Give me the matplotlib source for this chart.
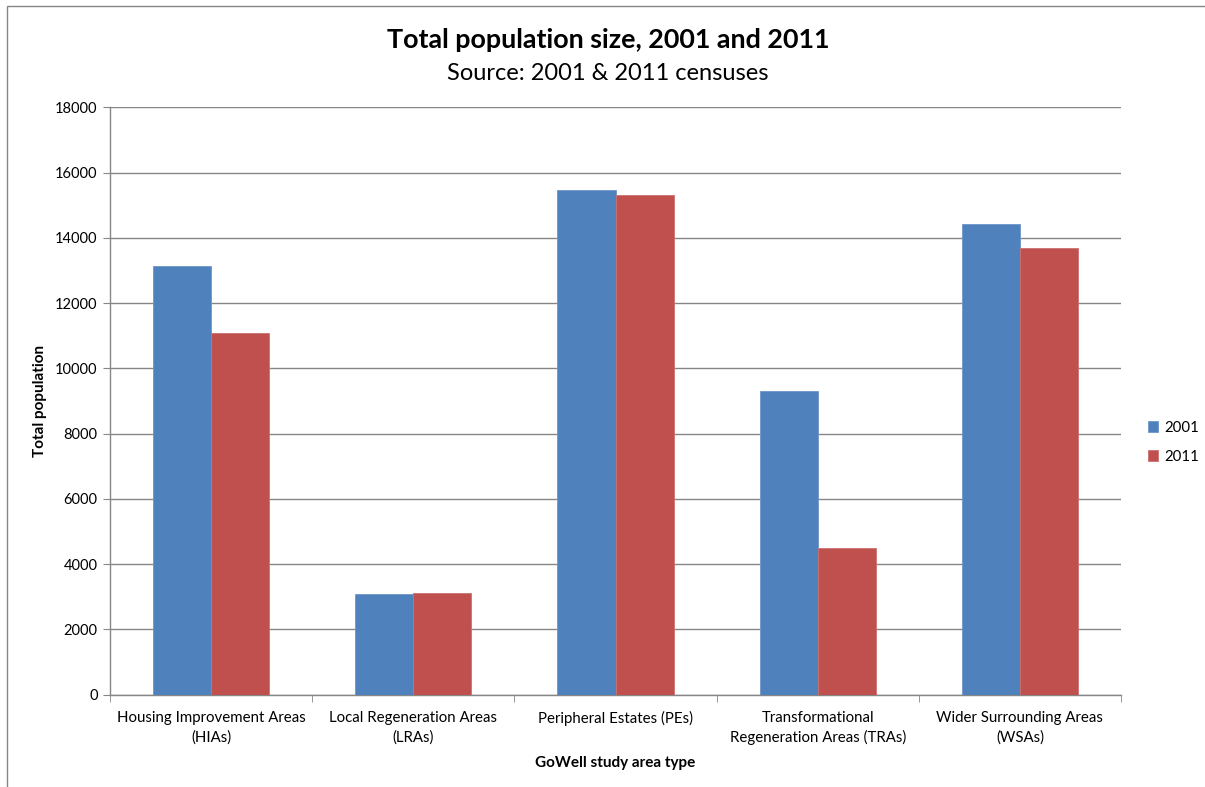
import matplotlib.pyplot as plt
import numpy as np
from matplotlib.patches import Rectangle

# Population counts per GoWell study area type
areas = ["Housing Improvement Areas\n(HIAs)",
         "Local Regeneration Areas\n(LRAs)",
         "Peripheral Estates (PEs)",
         "Transformational\nRegeneration Areas (TRAs)",
         "Wider Surrounding Areas\n(WSAs)"]
pop_2001 = [13150, 3085, 15455, 9295, 14425]
pop_2011 = [11085, 3105, 15305, 4485, 13700]
y_ticks = [0, 2000, 4000, 6000, 8000, 10000, 12000, 14000, 16000, 18000]

plt.rcParams['font.family'] = ['Lato', 'DejaVu Sans']

fig = plt.figure(figsize=(12.05, 7.87), dpi=100)
ax = fig.add_axes([110 / 1205, 1 - 694.7 / 787, 1011 / 1205, 587.4 / 787])

gray = "#868686"
x = np.arange(len(areas))
w = 0.2875
ax.bar(x - w / 2, pop_2001, w, color="#4F81BD", edgecolor="#6E96C8", linewidth=0.6, label="2001", zorder=3)
ax.bar(x + w / 2, pop_2011, w, color="#C0504D", edgecolor="#CC7270", linewidth=0.6, label="2011", zorder=3)

ax.set_xlim(-0.5, len(areas) - 0.5)
ax.set_ylim(0, 18000)
ax.set_yticks(y_ticks)
ax.tick_params(axis="y", labelsize=10.5, length=5, color=gray, pad=4)
ax.yaxis.grid(True, color=gray, linewidth=1, zorder=0)

# category labels centred, tick marks on the boundaries
ax.set_xticks(x)
ax.set_xticklabels(areas, fontsize=10.8, linespacing=1.4)
ax.tick_params(axis="x", length=0, pad=12)
ax.set_xticks(np.arange(-0.5, len(areas)), minor=True)
ax.tick_params(axis="x", which="minor", length=5, color=gray)

for s in ["top", "right"]:
    ax.spines[s].set_visible(False)
for s in ["left", "bottom"]:
    ax.spines[s].set_color(gray)
    ax.spines[s].set_linewidth(1)

ax.set_ylabel("Total population", fontsize=11, fontweight="bold", labelpad=6)
ax.set_xlabel("GoWell study area type", fontsize=11, fontweight="bold", labelpad=8)

fig.text(608 / 1205, 1 - 40 / 787, "Total population size, 2001 and 2011",
         ha="center", va="center", fontsize=19.4, fontweight="bold")
fig.text(608 / 1205, 1 - 73 / 787, "Source: 2001 & 2011 censuses",
         ha="center", va="center", fontsize=17)

ax.legend(loc="center left", bbox_to_anchor=(1.013, 0.43), frameon=False,
          fontsize=10.8, handlelength=0.7, handleheight=0.7, handletextpad=0.4,
          labelspacing=1.0)

# outer chart frame
fig.patches.append(Rectangle((7 / 1205, -0.1), 1.2, 1 - 6 / 787 + 0.1,
                             transform=fig.transFigure, fill=False,
                             edgecolor=gray, linewidth=1))

fig.savefig("out.png", dpi=100)
